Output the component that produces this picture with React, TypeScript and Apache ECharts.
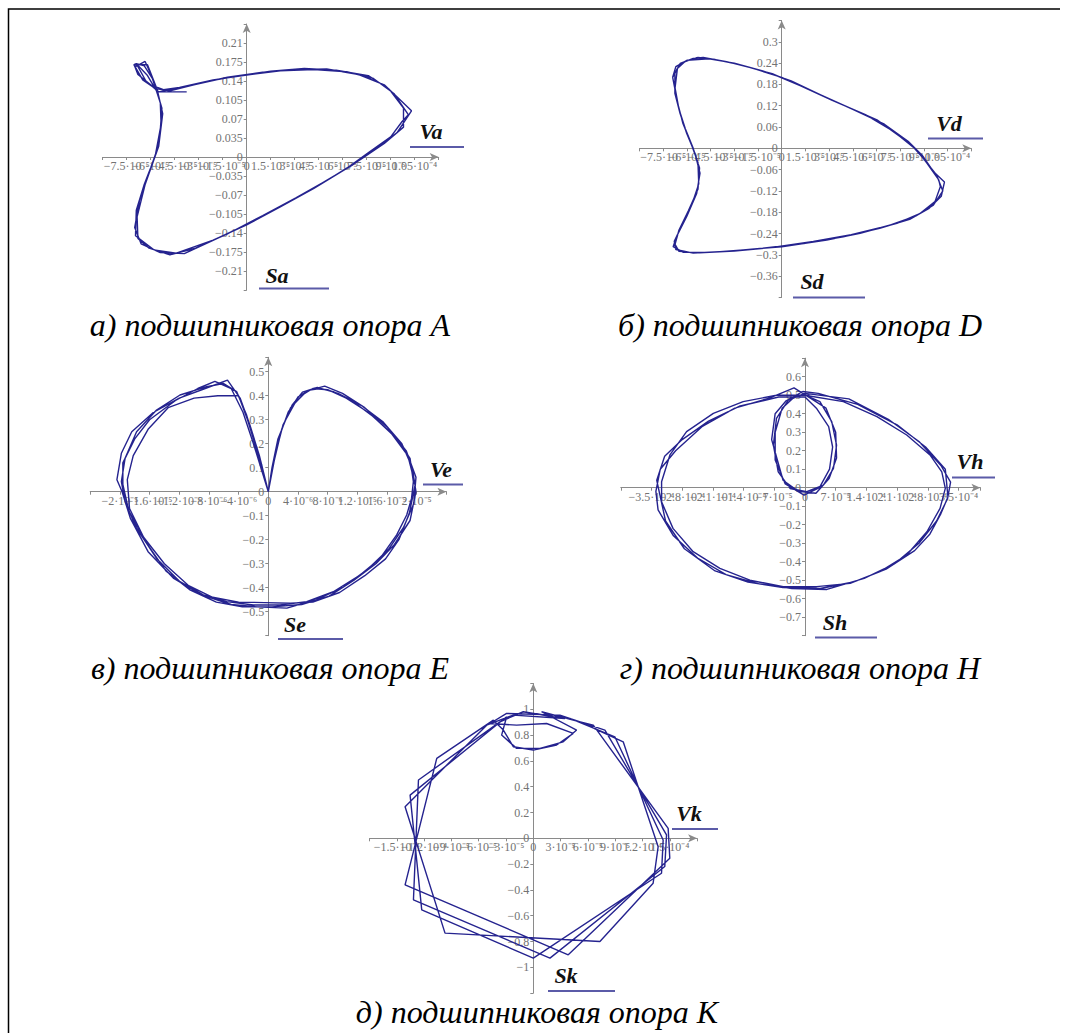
import React, { useEffect, useRef } from "react";
import * as echarts from "echarts";

// ---------- trajectories (x in the unit named per panel, y in m/s) ----------
// Support A, x in 1e-5 m
const trackA1 = [[-6.98,0.166],[-6.35,0.176],[-5.8,0.14],[-5.3,0.09],[-5.4,0.05],[-5.6,0.013],[-6.0,-0.02],[-6.4,-0.05],[-6.9,-0.098],[-6.95,-0.145],[-5.8,-0.171],[-4.4,-0.177],[-2.1,-0.153],[0,-0.125],[2.1,-0.092],[4.2,-0.058],[6.25,-0.021],[7.7,0.01],[9.0,0.037],[9.7,0.065],[10.1,0.078],[9.2,0.117],[7.9,0.145],[6.25,0.157],[4.2,0.161],[2.1,0.159],[0,0.151],[-2.1,0.142],[-4.2,0.128],[-5.2,0.124],[-6.0,0.133],[-6.8,0.152],[-6.98,0.166]];
const trackA2 = [[-7.05,0.17],[-6.2,0.17],[-5.6,0.125],[-5.25,0.08],[-5.5,0.02],[-6.1,-0.03],[-6.7,-0.08],[-7.0,-0.13],[-6.6,-0.16],[-5.4,-0.176],[-3.9,-0.178],[-2.0,-0.152],[0.3,-0.12],[2.5,-0.085],[4.6,-0.05],[6.6,-0.015],[8.2,0.018],[9.4,0.045],[10.3,0.085],[9.6,0.105],[8.6,0.133],[7.0,0.152],[5.0,0.162],[3.0,0.161],[1.0,0.156],[-1.2,0.147],[-3.3,0.133],[-4.8,0.122],[-5.7,0.126],[-6.5,0.142],[-7.05,0.17]];
const trackA3 = [[-6.9,0.172],[-6.4,0.168],[-5.9,0.145],[-5.4,0.1],[-5.35,0.06],[-5.7,0.005],[-6.3,-0.045],[-6.85,-0.11],[-6.8,-0.15],[-6.1,-0.168],[-4.8,-0.18],[-3.2,-0.168],[-1.1,-0.14],[1.0,-0.108],[3.1,-0.075],[5.2,-0.04],[7.1,-0.005],[8.6,0.025],[9.8,0.055],[9.8,0.09],[8.9,0.125],[7.6,0.15],[5.6,0.16],[3.6,0.163],[1.5,0.158],[-0.6,0.149],[-2.7,0.138],[-4.5,0.126],[-5.5,0.12],[-6.3,0.14],[-6.9,0.172],[-6.2,0.15],[-5.6,0.12],[-3.75,0.12]];

// Support D, x in 1e-5 m
const trackD1 = [[-6.76,0.211],[-6.43,0.239],[-5.6,0.253],[-4.97,0.256],[-3.49,0.244],[-1.8,0.225],[0,0.2],[1.8,0.164],[3.91,0.122],[6.03,0.08],[7.5,0.033],[8.56,-0.005],[9.2,-0.042],[9.94,-0.089],[10.04,-0.108],[9.7,-0.15],[8.77,-0.183],[7.29,-0.211],[4.96,-0.239],[2.85,-0.258],[0,-0.277],[-2.43,-0.286],[-4.54,-0.293],[-6.22,-0.293],[-6.87,-0.277],[-6.65,-0.248],[-6.01,-0.192],[-5.38,-0.127],[-5.17,-0.07],[-5.49,-0.014],[-6.01,0.042],[-6.43,0.098],[-6.76,0.155],[-6.76,0.211]];
const trackD2 = [[-6.9,0.2],[-6.7,0.23],[-6.0,0.248],[-4.6,0.252],[-3.0,0.24],[-1.2,0.218],[0.6,0.19],[2.5,0.15],[4.5,0.11],[6.5,0.068],[8.0,0.02],[8.9,-0.02],[9.6,-0.065],[10.3,-0.095],[10.1,-0.135],[9.3,-0.17],[8.1,-0.2],[6.2,-0.225],[3.9,-0.249],[1.4,-0.268],[-1.2,-0.281],[-3.5,-0.29],[-5.6,-0.295],[-6.7,-0.285],[-6.8,-0.262],[-6.3,-0.215],[-5.7,-0.16],[-5.25,-0.1],[-5.3,-0.04],[-5.75,0.015],[-6.25,0.07],[-6.6,0.13],[-6.9,0.2]];
const trackD3 = [[-6.6,0.225],[-6.1,0.245],[-5.3,0.256],[-4.2,0.25],[-2.6,0.235],[-0.6,0.21],[1.2,0.176],[3.2,0.135],[5.3,0.095],[7.0,0.05],[8.2,0.01],[9.0,-0.03],[9.8,-0.075],[10.2,-0.12],[9.6,-0.16],[8.5,-0.19],[6.8,-0.217],[4.4,-0.243],[2.0,-0.262],[-0.6,-0.279],[-3.0,-0.289],[-5.2,-0.294],[-6.5,-0.29],[-6.75,-0.27],[-6.5,-0.23],[-5.9,-0.175],[-5.3,-0.115],[-5.2,-0.055],[-5.6,0.0],[-6.1,0.055],[-6.5,0.11],[-6.75,0.17],[-6.6,0.225]];

// Support E, x in 1e-6 m
const trackE1 = [[0,0],[0.67,0.111],[1.57,0.236],[2.7,0.333],[4.04,0.396],[5.6,0.424],[6.97,0.43],[8.76,0.417],[11.46,0.375],[14.16,0.3125],[17.3,0.222],[19.1,0.139],[19.55,0.042],[19.3,-0.028],[18.65,-0.097],[17.3,-0.18],[15.06,-0.278],[12.36,-0.347],[8.76,-0.417],[5.17,-0.458],[1.57,-0.472],[-2.02,-0.472],[-5.6,-0.458],[-8.76,-0.43],[-11.9,-0.375],[-15.06,-0.278],[-17.75,-0.153],[-19.3,-0.042],[-19.8,0.042],[-19.3,0.139],[-17.75,0.25],[-15.06,0.34],[-11.9,0.403],[-8.3,0.4375],[-6.07,0.451],[-4.27,0.417],[-2.92,0.319],[-1.57,0.18],[-0.45,0.056],[0,0]];
const trackE2 = [[0.9,0.15],[2.0,0.28],[3.6,0.37],[5.2,0.42],[7.6,0.44],[10.0,0.41],[13.0,0.35],[16.0,0.27],[18.6,0.17],[19.9,0.06],[19.6,-0.05],[18.2,-0.15],[16.2,-0.24],[13.5,-0.32],[10.0,-0.4],[6.5,-0.45],[2.5,-0.485],[-1.5,-0.48],[-5.0,-0.47],[-9.0,-0.43],[-12.8,-0.36],[-16.2,-0.25],[-18.6,-0.11],[-19.7,0.0],[-20.4,0.05],[-19.8,0.16],[-18.4,0.25],[-15.5,0.33],[-12.0,0.39],[-8.5,0.43],[-5.5,0.465],[-3.8,0.39],[-2.5,0.28],[-1.2,0.15],[0,0]];
const trackE3 = [[0.5,0.1],[1.3,0.22],[3.0,0.35],[4.7,0.405],[6.0,0.43],[8.0,0.425],[10.5,0.39],[13.5,0.33],[16.4,0.25],[18.8,0.15],[19.8,0.03],[19.0,-0.09],[17.6,-0.2],[15.8,-0.28],[13.0,-0.35],[9.6,-0.42],[6.0,-0.46],[3.0,-0.465],[-0.5,-0.462],[-4.0,-0.46],[-7.5,-0.44],[-10.8,-0.39],[-14.0,-0.3],[-16.8,-0.19],[-18.7,-0.07],[-19.0,0.05],[-18.2,0.15],[-16.2,0.26],[-13.5,0.35],[-10.0,0.39],[-6.8,0.4],[-4.0,0.4],[-2.8,0.3],[-1.6,0.18],[-0.6,0.07],[0,0]];
const trackE4 = [[0.8,0.13],[1.8,0.26],[3.2,0.36],[4.6,0.415],[6.6,0.435],[9.4,0.41],[12.5,0.36],[15.5,0.29],[18.0,0.2],[19.4,0.1],[19.9,0.0],[19.1,-0.12],[17.0,-0.22],[14.5,-0.3],[11.5,-0.37],[8.2,-0.435],[4.5,-0.47],[0.5,-0.48],[-3.5,-0.48],[-7.0,-0.46],[-10.5,-0.41],[-13.8,-0.33],[-16.5,-0.21],[-18.8,-0.08],[-19.6,0.03],[-19.6,0.12],[-18.0,0.22],[-16.0,0.3],[-12.5,0.38],[-9.5,0.43],[-7.2,0.46],[-5.0,0.43],[-3.4,0.33],[-2.0,0.2],[-0.8,0.08],[0,0]];

// Support H, x in 1e-5 m (outer orbit and inner loop alternate)
const trackH1 = [[0,0.5],[8.75,0.465],[16.4,0.384],[23.2,0.285],[28.5,0.177],[31.2,0.086],[32,-0.004],[30.8,-0.112],[27.8,-0.238],[23.2,-0.364],[17.1,-0.454],[10.3,-0.517],[2.66,-0.535],[-4.95,-0.535],[-12.56,-0.5],[-19.4,-0.436],[-25.5,-0.346],[-30.1,-0.22],[-32.7,-0.076],[-32.7,0.032],[-30.8,0.177],[-27,0.303],[-20.9,0.402],[-14.1,0.465],[-6.5,0.5],[0,0.5]];
const trackH2 = [[3.4,0.465],[6.1,0.357],[7.2,0.23],[6.5,0.105],[4.2,0.014],[0.4,-0.022],[-3.4,-0.004],[-6.1,0.086],[-7.2,0.23],[-6.5,0.375],[-3.8,0.474],[0,0.51]];
const trackH3 = [[10,0.48],[19,0.37],[26,0.25],[31,0.12],[33.2,0.03],[32.5,-0.06],[30,-0.18],[26,-0.3],[20.5,-0.41],[13.5,-0.49],[5,-0.55],[-3,-0.545],[-10.5,-0.52],[-18,-0.47],[-24.5,-0.38],[-30,-0.26],[-33.5,-0.12],[-34,-0.02],[-33,0.1],[-29.5,0.2],[-23.5,0.33],[-16,0.43],[-8,0.485],[-2.5,0.54],[1.5,0.48]];
const trackH4 = [[4.8,0.43],[7.0,0.3],[7.2,0.16],[5.5,0.05],[2.5,-0.03],[-1.5,-0.02],[-5.0,0.04],[-7.6,0.26],[-6.8,0.4],[-4.3,0.47],[-0.5,0.52],[3.0,0.51]];
const trackH5 = [[12,0.45],[21,0.34],[27.5,0.22],[32,0.1],[32.6,-0.05],[31,-0.14],[28.5,-0.25],[25,-0.34],[18.5,-0.44],[11,-0.51],[3.5,-0.545],[-5,-0.54],[-13,-0.51],[-20.5,-0.45],[-27.5,-0.33],[-31.8,-0.18],[-33.8,0.04],[-32,0.17],[-28,0.26],[-22,0.36],[-15,0.44],[-6,0.49],[0,0.49]];
const trackH6 = [[2.6,0.43],[5.4,0.33],[6.3,0.22],[5.6,0.1],[3.3,0.0],[-0.2,-0.04],[-4.5,0.02],[-6.8,0.15],[-6.8,0.3],[-5.2,0.43],[-2.0,0.5],[1.0,0.5]];

// Support K, x in 1e-5 m: four turns of a slowly rotating polygon, with the lens near the top
const trackK1 = [[1.46,0.968],[6.59,0.877],[14.82,0.077],[15.0,-0.155],[3.84,-0.903],[-14.09,-0.361],[-10.61,0.619],[-4.39,0.916]];
const trackK2 = [[-3.29,0.839],[-2.2,0.71],[0,0.684],[2.56,0.723],[4.39,0.813],[1.46,0.89],[-1.83,0.877],[-4.76,0.89],[-2.93,0.968]];
const trackK3 = [[2.93,0.955],[7.87,0.839],[14.64,0.026],[14.45,-0.219],[1.83,-0.929],[-13.17,-0.477],[-12.62,0.452],[-3.66,0.903],[-1.1,0.981],[2.2,0.942]];
const trackK4 = [[4.02,0.929],[8.96,0.787],[14.27,-0.013],[14.09,-0.271],[0,-0.929],[-12.26,-0.555],[-13.54,0.335],[-2.93,0.942]];
const trackK5 = [[-3.48,0.8],[-1.83,0.697],[0.73,0.697],[3.29,0.748],[4.76,0.839],[0.91,0.981]];
const trackK6 = [[5.12,0.903],[9.88,0.748],[13.72,-0.065],[13.17,-0.348],[7.32,-0.8],[-9.7,-0.735],[-14.09,0.245],[-5.12,0.877],[-2.2,0.955],[3.48,0.929]];

// Axis scales: [min, max, interval, first labelled, last labelled]
const xTicksAD = [-9, 12, 1.5, -7.5, 10.5];
const yTicksA = [-0.245, 0.245, 0.035, -0.21, 0.21];
const yTicksD = [-0.42, 0.36, 0.06, -0.36, 0.3];
const xTicksE = [-24, 24, 4, -20, 20];
const yTicksE = [-0.6, 0.56, 0.1, -0.5, 0.5];
const xTicksH = [-42, 40, 7, -35, 35];
const yTicksH = [-0.8, 0.7, 0.1, -0.7, 0.6];
const xTicksK = [-18, 18, 3, -15, 15];
const yTicksK = [-1.2, 1.2, 0.2, -1, 1];

const captions = [
  "а) подшипниковая опора A",
  "б) подшипниковая опора D",
  "в) подшипниковая опора E",
  "г) подшипниковая опора H",
  "д) подшипниковая опора K",
];
const xNames = ["Sa", "Sd", "Se", "Sh", "Sk"];
const yNames = ["Va", "Vd", "Ve", "Vh", "Vk"];

const LINE = "#25238f";
const AXIS = "#8a8a8a";
const LABEL = "#737373";
const UNDER = "#5b5ba8";

const SUP: Record<string, string> = { "-": "⁻", "0": "⁰", "1": "¹", "2": "²", "3": "³", "4": "⁴", "5": "⁵", "6": "⁶", "7": "⁷", "8": "⁸", "9": "⁹" };
const sup = (s: string) => s.split("").map((c) => SUP[c] ?? c).join("");

function sciLabel(unitExp: number, lo: number, hi: number) {
  return (v: number) => {
    const r = Math.round(v * 1000) / 1000;
    if (r < lo - 1e-6 || r > hi + 1e-6) return "";
    if (Math.abs(r) < 1e-9) return "0";
    const real = Math.abs(r) * Math.pow(10, unitExp);
    const e = Math.floor(Math.log10(real) + 1e-9);
    const m = Math.round((real / Math.pow(10, e)) * 1000) / 1000;
    return (r < 0 ? "−" : "") + m + "·10" + sup(String(e));
  };
}
function plainLabel(lo: number, hi: number) {
  return (v: number) => {
    const r = Math.round(v * 10000) / 10000;
    if (r < lo - 1e-6 || r > hi + 1e-6) return "";
    if (Math.abs(r) < 1e-9) return "0";
    return (r < 0 ? "−" : "") + String(Math.abs(r));
  };
}

const labelFont = { fontFamily: "Liberation Serif", fontSize: 12, color: LABEL };

type Box = { left: number; top: number; width: number; height: number };

// The x axis is shifted up from the grid bottom to the row where y = 0
function xAxisOf(idx: number, t: number[], yt: number[], box: Box, unitExp: number) {
  const shift = ((0 - yt[0]) / (yt[1] - yt[0])) * box.height;
  return {
    type: "value", gridIndex: idx, min: t[0], max: t[1], interval: t[2], position: "bottom", offset: -shift,
    splitLine: { show: false },
    axisLine: { onZero: false, symbol: ["none", "arrow"], symbolSize: [6, 9], lineStyle: { color: AXIS, width: 1 } },
    axisTick: { show: true, length: 3, lineStyle: { color: AXIS } },
    axisLabel: { ...labelFont, margin: 3, hideOverlap: false, showMinLabel: true, showMaxLabel: true, formatter: sciLabel(unitExp, t[3], t[4]) },
  };
}
// The y axis is shifted right from the grid's left edge to the column where x = 0
function yAxisOf(idx: number, t: number[], xt: number[], box: Box) {
  const shift = ((0 - xt[0]) / (xt[1] - xt[0])) * box.width;
  return {
    type: "value", gridIndex: idx, min: t[0], max: t[1], interval: t[2], position: "left", offset: -shift,
    splitLine: { show: false },
    axisLine: { onZero: false, symbol: ["none", "arrow"], symbolSize: [6, 9], lineStyle: { color: AXIS, width: 1 } },
    axisTick: { show: true, length: 3, lineStyle: { color: AXIS } },
    axisLabel: { ...labelFont, margin: 4, hideOverlap: false, showMinLabel: true, showMaxLabel: true, formatter: plainLabel(t[3], t[4]) },
  };
}

function traceOf(idx: number, data: number[][]) {
  return {
    type: "line", xAxisIndex: idx, yAxisIndex: idx, data, showSymbol: false, symbol: "none",
    smooth: false, clip: false, lineStyle: { color: LINE, width: 1.4 }, silent: true,
  };
}

// Axis name with the short rule beneath it
function nameTag(text: string, cx: number, cy: number, x1: number, x2: number, ly: number) {
  return [
    { type: "text", x: cx, y: cy, style: { text, fontFamily: "Liberation Serif", fontStyle: "italic", fontWeight: "bold", fontSize: 22, fill: "#111", align: "center", verticalAlign: "middle" } },
    { type: "line", shape: { x1, y1: ly, x2, y2: ly }, style: { stroke: UNDER, lineWidth: 2 } },
  ];
}
function caption(text: string, cx: number, cy: number) {
  return { type: "text", x: cx, y: cy, style: { text, fontFamily: "Liberation Serif", fontStyle: "italic", fontSize: 32, fill: "#000", align: "center", verticalAlign: "middle" } };
}

export default function App() {
  const ref = useRef<HTMLDivElement>(null);
  useEffect(() => {
    if (!ref.current) return;
    const chart = echarts.init(ref.current, null, { renderer: "svg" });
    const boxes: Box[] = [
      { left: 102.7, top: 24, width: 336, height: 266 },
      { left: 639.5, top: 20.5, width: 331.8, height: 277 },
      { left: 90.2, top: 357.3, width: 356.2, height: 278.4 },
      { left: 620.8, top: 358.2, width: 359.6, height: 277.5 },
      { left: 369.5, top: 683.5, width: 327.6, height: 309.6 },
    ];
    const grids = boxes.map((g) => ({ ...g, containLabel: false, outerBoundsMode: "none", show: false }));
    const xt = [xTicksAD, xTicksAD, xTicksE, xTicksH, xTicksK];
    const yt = [yTicksA, yTicksD, yTicksE, yTicksH, yTicksK];
    const exps = [-5, -5, -6, -5, -5];

    const option: any = {
      animation: false,
      backgroundColor: "#ffffff",
      grid: grids,
      xAxis: boxes.map((b, i) => xAxisOf(i, xt[i], yt[i], b, exps[i])),
      yAxis: boxes.map((b, i) => yAxisOf(i, yt[i], xt[i], b)),
      series: [
        traceOf(0, [...trackA1, ...trackA2, ...trackA3]),
        traceOf(1, [...trackD1, ...trackD2, ...trackD3]),
        traceOf(2, [...trackE1, ...trackE2, ...trackE3, ...trackE4]),
        traceOf(3, [...trackH1, ...trackH2, ...trackH3, ...trackH4, ...trackH5, ...trackH6]),
        traceOf(4, [...trackK1, ...trackK2, ...trackK3, ...trackK4, ...trackK5, ...trackK6]),
      ],
      graphic: [
        { type: "polyline", shape: { points: [[8.5, 1040], [8.5, 9], [1060, 9]] }, style: { stroke: "#000", lineWidth: 1.5, fill: null } },
        ...nameTag(yNames[0], 431, 131, 410, 464, 147),
        ...nameTag(xNames[0], 277, 275, 259, 329, 288.5),
        ...nameTag(yNames[1], 949, 123, 928, 983, 138.5),
        ...nameTag(xNames[1], 812, 281, 793, 865, 297.5),
        ...nameTag(yNames[2], 441, 469, 423, 463, 484.5),
        ...nameTag(xNames[2], 295, 624, 278, 343, 639),
        ...nameTag(yNames[3], 970, 461, 952, 995, 477.5),
        ...nameTag(xNames[3], 835, 622, 815, 877, 637.5),
        ...nameTag(yNames[4], 689, 813, 672, 718, 829),
        ...nameTag(xNames[4], 566, 975, 548, 615, 991),
        caption(captions[0], 270, 325),
        caption(captions[1], 800, 325),
        caption(captions[2], 270, 668),
        caption(captions[3], 800, 668),
        caption(captions[4], 537, 1012),
      ],
    };
    chart.setOption(option);
    return () => chart.dispose();
  }, []);
  return <div ref={ref} style={{ position: "fixed", left: 0, top: 0, width: 1069, height: 1033, background: "#fff" }} />;
}
